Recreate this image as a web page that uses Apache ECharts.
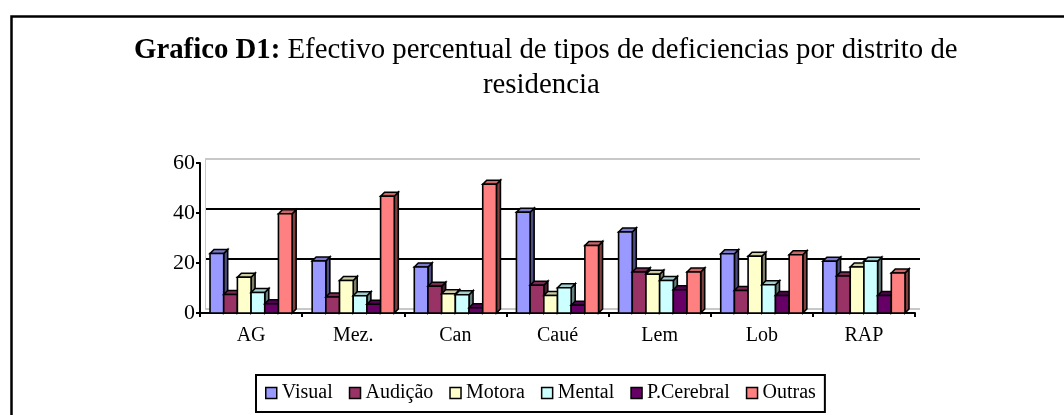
<!DOCTYPE html>
<html lang="pt">
<head>
  <meta charset="UTF-8">
  <title>Grafico D1</title>
  <script src="https://cdn.jsdelivr.net/npm/echarts@6/dist/echarts.min.js"></script>
  <style>
    html, body { margin: 0; padding: 0; background: #fff; }
    #main { width: 1064px; height: 415px; }
  </style>
</head>
<body>
<div id="main"></div>
<script>
  const distritos = ['AG', 'Mez.', 'Can', 'Caué', 'Lem', 'Lob', 'RAP'];
  const tipos = ['Visual', 'Audição', 'Motora', 'Mental', 'P.Cerebral', 'Outras'];
  const cores = ['#9999FF', '#993366', '#FFFFCC', '#CCFFFF', '#660066', '#FF8080'];

  // valores por tipo de deficiencia (%), um array por serie
  const visual     = [23.8, 20.8, 18.4, 40.3, 32.4, 23.7, 20.7];
  const audicao    = [7.4, 6.4, 10.7, 11.1, 16.4, 9.0, 14.8];
  const motora     = [14.3, 13.0, 7.7, 7.0, 15.5, 22.7, 18.4];
  const mental     = [8.2, 6.9, 7.3, 10.1, 13.0, 11.3, 20.7];
  const pCerebral  = [3.7, 3.5, 2.1, 3.1, 9.3, 7.0, 7.0];
  const outras     = [39.7, 46.7, 51.5, 27.0, 16.4, 23.3, 16.0];
  const valores = [visual, audicao, motora, mental, pCerebral, outras];

  const serif = 'Liberation Serif';

  function shade(hex, f) {
    const n = parseInt(hex.slice(1), 16);
    const r = Math.round(((n >> 16) & 255) * f);
    const g = Math.round(((n >> 8) & 255) * f);
    const b = Math.round((n & 255) * f);
    return 'rgb(' + r + ',' + g + ',' + b + ')';
  }

  // barra com frente, topo e lado (efeito 3D simples)
  function renderBar(params, api) {
    const cat = api.value(0);
    const top = api.coord([cat, api.value(1)]);
    const base = api.coord([cat, 0]);
    const band = api.size([1, 0])[0];
    const w = band * 0.134;
    const si = params.seriesIndex;
    const x0 = top[0] - 3 * w + si * w;
    const yT = top[1], yB = base[1];
    const d = 4;
    const c = cores[si];
    const st = { stroke: '#000', lineWidth: 1.6 };
    return {
      type: 'group',
      children: [
        { type: 'polygon', shape: { points: [[x0 + w, yT], [x0 + w + d, yT - d], [x0 + w + d, yB - d], [x0 + w, yB]] },
          style: Object.assign({ fill: shade(c, 0.5) }, st) },
        { type: 'polygon', shape: { points: [[x0, yT], [x0 + d, yT - d], [x0 + w + d, yT - d], [x0 + w, yT]] },
          style: Object.assign({ fill: shade(c, 0.8) }, st) },
        { type: 'rect', shape: { x: x0, y: yT, width: w, height: yB - yT },
          style: Object.assign({ fill: c }, st) }
      ]
    };
  }

  const chart = echarts.init(document.getElementById('main'));

  chart.setOption({
    animation: false,
    backgroundColor: '#fff',
    title: [
      {
        text: '{b|Grafico D1:} Efectivo percentual de tipos de deficiencias por distrito de',
        left: 134, top: 36, padding: 0,
        textStyle: {
          fontFamily: serif, fontSize: 28.8, fontWeight: 'normal', color: '#000',
          rich: { b: { fontFamily: serif, fontSize: 28.8, fontWeight: 'bold', color: '#000' } }
        }
      },
      {
        text: 'residencia',
        left: 483, top: 71, padding: 0,
        textStyle: { fontFamily: serif, fontSize: 28.8, fontWeight: 'normal', color: '#000' }
      }
    ],
    graphic: [
      {
        type: 'rect', left: 9, top: 14, z: 100,
        shape: { width: 1200, height: 600 },
        style: { fill: 'none', stroke: '#000', lineWidth: 2.5 }
      }
    ],
    legend: {
      data: tipos,
      left: 256, top: 375,
      padding: [8, 9, 9, 9],
      itemGap: 16,
      itemWidth: 11, itemHeight: 11,
      icon: 'rect',
      borderColor: '#000', borderWidth: 2,
      itemStyle: { borderColor: '#000', borderWidth: 1.5 },
      textStyle: { fontFamily: serif, fontSize: 20, color: '#000' }
    },
    grid: [
      { left: 200, right: 149, top: 163, bottom: 102 },
      { left: 205, right: 144, top: 159, bottom: 106 }
    ],
    xAxis: [
      {
        type: 'category', gridIndex: 0, data: distritos,
        axisLine: { lineStyle: { color: '#000', width: 2 } },
        axisTick: { show: true, length: 4, lineStyle: { color: '#000', width: 2 } },
        axisLabel: { fontFamily: serif, fontSize: 20, color: '#000', margin: 13 },
        splitLine: { show: false }
      },
      { type: 'value', gridIndex: 1, show: false }
    ],
    yAxis: [
      {
        type: 'value', gridIndex: 0, min: 0, max: 60, interval: 20,
        axisLine: { show: true, lineStyle: { color: '#000', width: 2 } },
        axisTick: { show: true, length: 4, lineStyle: { color: '#000', width: 2 } },
        axisLabel: { fontFamily: serif, fontSize: 22, color: '#000', margin: 5, padding: [6, 0, 0, 0] },
        splitLine: { show: false }
      },
      {
        type: 'value', gridIndex: 1, min: 0, max: 60, interval: 20,
        axisLine: { show: true, lineStyle: { color: '#c8c8c8', width: 1 } },
        axisTick: { show: false },
        axisLabel: { show: false },
        splitLine: { show: true, lineStyle: { color: ['#c8c8c8', '#000', '#000', '#c8c8c8'], width: 2 } }
      }
    ],
    series: tipos.map((nome, i) => ({
      name: nome,
      type: 'custom',
      xAxisIndex: 0, yAxisIndex: 0,
      renderItem: renderBar,
      itemStyle: { color: cores[i] },
      encode: { x: 0, y: 1 },
      data: valores[i].map((v, j) => [j, v])
    }))
  });
</script>
</body>
</html>
